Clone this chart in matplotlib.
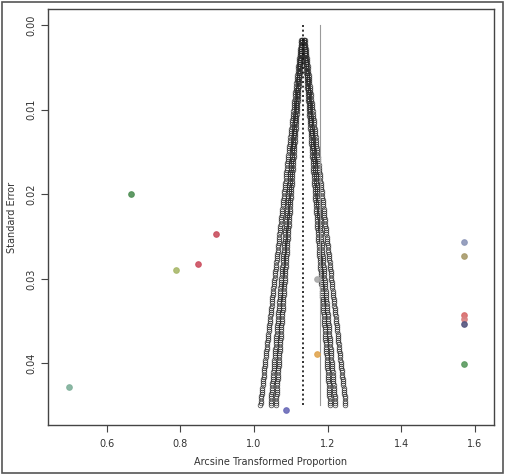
import numpy as np
import matplotlib
matplotlib.use("Agg")
import matplotlib.pyplot as plt
from matplotlib.patches import Rectangle

# ---- data ----
study_x = [0.667, 0.896, 0.847, 0.788, 0.496, 1.171, 1.170, 1.087,
           1.571, 1.571, 1.571, 1.571, 1.571, 1.571]
study_se = [0.0200, 0.0247, 0.0283, 0.0290, 0.0428, 0.0300, 0.0389, 0.0455,
            0.0256, 0.0273, 0.0343, 0.0347, 0.0354, 0.0401]
study_colors = ["#4f8f55", "#c9505f", "#cc4f60", "#a9b86a", "#7fb09a", "#a8a8a8",
                "#e0a550", "#6a6ab8", "#8c96b8", "#a89a6a", "#d86a6a", "#d88080",
                "#55557f", "#5a9a5f"]
pooled = 1.133
fixed_line = 1.180
z_levels = [1.645, 1.96, 2.576]
se_top = 0.0018
se_bottom = 0.0449

x_ticks = [0.6, 0.8, 1.0, 1.2, 1.4, 1.6]
y_ticks = [0.00, 0.01, 0.02, 0.03, 0.04]

fig = plt.figure(figsize=(5.05, 4.75), dpi=100)
fig.patches.append(Rectangle((0.004, 0.004), 0.992, 0.992, transform=fig.transFigure,
                             fill=False, edgecolor="#555555", linewidth=1.2))
ax = fig.add_axes([0.095, 0.105, 0.883, 0.876])

# funnel contours drawn as dense open circles
se_grid = np.linspace(se_top, se_bottom, 170)
for z in z_levels:
    for sgn in (-1, 1):
        ax.plot(pooled + sgn * z * se_grid, se_grid, linestyle="none", marker="o",
                markersize=3.4, markerfacecolor="none", markeredgecolor="#2a2a2a",
                markeredgewidth=0.45, zorder=2)

ax.plot([pooled, pooled], [0, se_bottom], color="#111111", linestyle=(0, (1.2, 1.6)),
        linewidth=1.2, zorder=3)
ax.plot([fixed_line, fixed_line], [0, se_bottom], color="#9a9a9a", linewidth=0.8, zorder=3)

for x, y, c in zip(study_x, study_se, study_colors):
    ax.plot(x, y, marker="o", markersize=4.0, markerfacecolor=c,
            markeredgecolor=c, markeredgewidth=0.8, alpha=0.9, zorder=4)

ax.set_xlim(0.44, 1.652)
ax.set_ylim(0.0473, -0.0019)
ax.set_xticks(x_ticks)
ax.set_xticklabels([f"{v:.1f}" for v in x_ticks], fontsize=7, color="#333333")
ax.set_yticks(y_ticks)
ax.set_yticklabels([f"{v:.2f}" for v in y_ticks], fontsize=7, color="#333333",
                   rotation=90, va="center")
ax.tick_params(direction="out", length=5, width=0.8, color="#444444")
ax.tick_params(axis="x", pad=5)
ax.tick_params(axis="y", pad=3)
for s in ax.spines.values():
    s.set_color("#444444")
    s.set_linewidth(1.0)
ax.set_xlabel("Arcsine Transformed Proportion", fontsize=7, color="#333333", labelpad=6)
ax.set_ylabel("Standard Error", fontsize=7, color="#333333", labelpad=7)

fig.savefig("out.png", dpi=100)
